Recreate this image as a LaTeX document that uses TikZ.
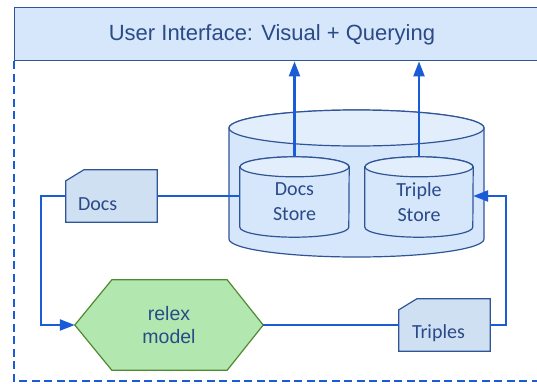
\documentclass[tikz,border=0pt]{standalone}
\usepackage{fontspec}
\setmainfont{Liberation Sans}
\newfontfamily\calib{Carlito}
\usetikzlibrary{calc,backgrounds,arrows.meta}
\definecolor{conn}{HTML}{1A5BD6}
\definecolor{edgeblue}{HTML}{2F5597}
\definecolor{txtblue}{HTML}{2A4A88}
\definecolor{uifill}{HTML}{D6E6FB}
\definecolor{cylfill}{HTML}{D6E6FB}
\definecolor{cyltop}{HTML}{E3EEFC}
\definecolor{cardfill}{HTML}{CFE0F3}
\definecolor{hexfill}{HTML}{B2E8B0}
\definecolor{hexedge}{HTML}{4F8A2F}
\begin{document}
\begin{tikzpicture}[x=1pt,y=-1pt,
  connline/.style={draw=conn, line width=2.3pt},
  arr/.style={connline, -{Triangle[length=15pt,width=11pt]}},
  frame/.style={draw=conn, line width=2pt, dash pattern=on 8pt off 4.5pt},
  shapeedge/.style={draw=edgeblue, line width=1.2pt},
  calibtext/.style={font=\calib\fontsize{20}{25}\selectfont, text=txtblue},
  storebox/.style={calibtext, align=center, minimum width=#1, minimum height=70pt, inner sep=0pt},
  cardbox/.style={minimum width=91pt, minimum height=52pt, inner sep=0pt},
  cardtext/.style={calibtext, anchor=west, inner sep=0pt}
]
\useasboundingbox (0,0) rectangle (537,383);
\clip (0,0) rectangle (537,383);

% user interface bar
\node[shapeedge, line width=1.4pt, fill=uifill, minimum width=540pt, minimum height=53pt, anchor=north west] (ui) at (14,7) {};
\node[font=\fontsize{22}{26}\selectfont, text=txtblue] (uilabel) at (272,35) {User Interface: Visual + Querying};

% dashed frame
\coordinate (frameBL) at (14,381);
\coordinate (frameBR) at (545,381);
\draw[frame] (ui.south west) -- (frameBL) -- (frameBR);

% stores
\node[storebox=109pt] (dstore) at (294.5,202) {Docs\\Store};
\node[storebox=108pt] (tstore) at (419,202) {Triple\\Store};

% cards
\node[cardbox] (docs) at (111.5,196) {};
\node[cardtext] (docslabel) at ($(docs.west)+(12,8)$) {Docs};
\node[cardbox] (triples) at (444.5,325) {};
\node[cardtext] (tripleslabel) at ($(triples.west)+(13,8)$) {Triples};

% relex model
\node[font=\fontsize{19.5}{23}\selectfont, text=txtblue, align=center, minimum width=188pt, minimum height=90pt, inner sep=0pt] (hex) at (169,325) {relex\\model};

\begin{scope}[on background layer]
  % big cylinder
  \path[shapeedge, fill=cylfill] (229,128) -- (229,239)
     arc[start angle=180, end angle=360, x radius=127.5pt, y radius=18pt]
     -- (484,128)
     arc[start angle=0, end angle=180, x radius=127.5pt, y radius=18pt] -- cycle;
  \draw[shapeedge, fill=cyltop] (356.5,128) ellipse[x radius=127.5pt, y radius=18pt];
  % small cylinders
  \foreach \n/\r in {dstore/54.5, tstore/54} {
    \path[shapeedge, fill=cylfill] (\n.north west) -- ($(\n.south west)+(0,-10)$)
       arc[start angle=180, end angle=360, x radius=\r pt, y radius=10pt]
       -- (\n.north east)
       arc[start angle=0, end angle=180, x radius=\r pt, y radius=10pt] -- cycle;
    \draw[shapeedge, fill=cyltop] (\n.north) ellipse[x radius=\r pt, y radius=10pt];
  }
  % cards
  \foreach \n in {docs, triples} {
    \draw[shapeedge, fill=cardfill] (\n.south west) -- ($(\n.north west)+(0,11)$)
       -- ($(\n.north west)+(18,0)$) -- (\n.north east) -- (\n.south east) -- cycle;
  }
  % hexagon
  \draw[draw=hexedge, line width=1.2pt, fill=hexfill] (hex.west)
     -- ($(hex.north west)+(37,0)$) -- ($(hex.north east)+(-36,0)$) -- (hex.east)
     -- ($(hex.south east)+(-36,0)$) -- ($(hex.south west)+(37,0)$) -- cycle;
\end{scope}

% connectors
\coordinate (dstoretop) at ($(dstore.north)+(0,-10)$);
\coordinate (tstoretop) at ($(tstore.north)+(0,-10)$);
\draw[arr] (dstoretop) -- (dstoretop |- ui.south);
\draw[arr] (tstoretop) -- (tstoretop |- ui.south);
\draw[connline] (docs.east) -- (docs.east -| dstore.west);
\coordinate (leftturn) at (41,196);
\draw[arr] (docs.west) -- (leftturn) |- (hex.west);
\draw[connline] (hex.east) -- (triples.west);
\coordinate (rightturn) at (506,196);
\draw[arr] (triples.east) -| (rightturn) -- (rightturn -| tstore.east);
\end{tikzpicture}
\end{document}
